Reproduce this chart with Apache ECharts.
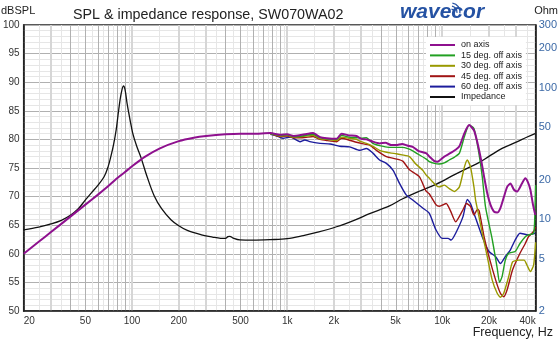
<!DOCTYPE html>
<html><head><meta charset="utf-8">
<script src="https://cdn.jsdelivr.net/npm/echarts@6/dist/echarts.min.js"></script>
<style>html,body{margin:0;padding:0;background:#fff}#c{width:560px;height:345px}</style>
</head><body><div id="c"></div>
<script>
// ---- data (frequency Hz, level) ----
const onAxis = [[20,60.0],[25,62.1],[30,63.8],[40,66.5],[50,68.6],[60,70.3],[70,71.8],[80,73.2],[90,74.3],[100,75.3],[120,76.9],[150,78.4],[200,79.7],[250,80.3],[300,80.6],[400,80.9],[500,81.0],[600,81.0],[780,81.1],
 [900,80.8],[1000,80.9],[1100,80.6],[1250,80.8],[1470,81.1],[1630,80.4],[1800,80.2],[2080,80.1],[2240,81.0],[2500,80.7],[2800,80.6],[3000,80.1],[3240,80.0],[3570,79.6],[3940,79.3],[4300,79.4],[4700,79.0],[5050,79.0],[5500,79.2],[6000,78.9],[6450,78.7],[7000,78.0],[7850,77.6],[8250,77.0],[8900,76.2],[9300,76.1],[10300,77.0],[11100,77.5],[12200,78.2],[12900,78.8],[13900,81.1],[14900,82.5],[16000,81.6],[16900,79.3],[17800,76.4],[18600,73.5],[19500,70.6],[20500,68.5],[21500,67.4],[22600,67.2],[23700,68.0],[25000,70.0],[26200,71.7],[27500,72.3],[29000,71.2],[30400,70.9],[32500,72.2],[34300,73.2],[35700,72.5],[37000,71.2],[38500,68.5],[39800,66.8],[40000,66.7]];
const off15 = [[780,81.0],[900,80.7],[1000,80.8],[1100,80.5],[1250,80.6],[1470,80.9],[1630,80.3],[1800,80.1],[2080,80.0],[2240,80.7],[2500,80.4],[2800,80.3],[3000,80.2],[3240,80.3],[3570,79.3],[3940,78.9],[4300,78.7],[4700,78.6],[5050,78.6],[5500,78.6],[6000,78.4],[6450,78.0],[7000,77.4],[7850,76.6],[8250,76.1],[8900,75.8],[9500,75.7],[10300,75.9],[11100,76.4],[12000,76.9],[12900,77.6],[13900,80.5],[14900,82.5],[16000,81.9],[17100,78.1],[18100,73.5],[19000,68.2],[21000,62.5],[22600,57.5],[23400,55.0],[24300,56.0],[25500,58.9],[26800,60.1],[29500,60.4],[31700,61.8],[34300,63.0],[36000,63.3],[38800,63.6],[39500,66.5],[40000,72.0]];
const off30 = [[780,81.0],[900,80.6],[1000,80.7],[1100,80.4],[1250,80.5],[1470,80.7],[1630,80.1],[1800,80.0],[2080,79.8],[2240,80.4],[2500,80.2],[2800,80.0],[3000,79.6],[3240,79.3],[3570,78.8],[3940,78.1],[4300,77.8],[4700,77.6],[5050,77.5],[5500,77.3],[6140,77.0],[6700,75.8],[7480,74.6],[7850,73.8],[8250,73.2],[9100,72.0],[9550,71.7],[10300,72.0],[11100,71.4],[12000,70.9],[12900,71.7],[13900,75.2],[14500,76.4],[15200,75.2],[16000,71.7],[16400,69.4],[17100,67.0],[18100,63.6],[19500,59.5],[21000,55.4],[22600,53.1],[23700,52.4],[24900,53.1],[26800,56.0],[28400,58.6],[31200,58.9],[33700,58.9],[35200,58.0],[37000,56.9],[38800,58.0],[40000,62.0]];
const off45 = [[780,81.0],[900,80.5],[1000,80.6],[1100,80.3],[1250,80.3],[1470,80.5],[1630,80.0],[1800,79.8],[2080,79.6],[2240,80.2],[2500,79.9],[2800,79.5],[3000,79.3],[3400,79.0],[3800,78.0],[4360,77.0],[5000,76.6],[5560,76.2],[6140,74.7],[7110,73.5],[7850,71.0],[8240,70.5],[9100,68.6],[9550,68.3],[10000,68.5],[10600,68.8],[11300,67.5],[12200,65.6],[13600,67.7],[14300,68.8],[15200,68.3],[16000,66.8],[16900,67.8],[17300,67.5],[18600,63.0],[20000,59.5],[22100,55.4],[23700,53.1],[24900,52.5],[26200,53.7],[28400,57.2],[31700,60.1],[34300,61.8],[36000,63.0],[38800,63.9],[40000,64.7]];
const off60 = [[780,80.9],[860,80.6],[940,80.2],[1050,80.4],[1210,79.6],[1300,79.9],[1400,79.6],[1630,79.3],[1890,79.2],[2180,78.8],[2530,78.7],[2940,78.1],[3240,78.4],[3570,77.6],[3940,76.4],[4360,75.8],[4820,74.6],[5300,72.3],[5850,70.3],[6450,69.4],[7480,68.0],[8240,67.1],[9100,64.2],[10000,62.7],[10900,62.7],[11400,62.4],[12200,63.6],[13600,66.5],[14500,69.5],[15200,68.8],[16000,67.1],[18100,63.0],[20000,60.4],[22100,59.5],[23700,58.3],[25500,59.5],[27500,60.7],[29500,62.4],[31700,63.6],[36000,63.3],[39800,63.6],[40000,63.5]];
const impedance = [[20,8.3],[25,8.7],[30,9.2],[35,9.8],[40,10.7],[45,12.0],[50,14.0],[55,16.0],[60,18.0],[66,21],[70,25],[73,30],[76,37],[79,48],[82,68],[85,90],[88,103],[90,97],[93,75],[97,57],[101,45],[107,36],[114,29.5],[125,21],[139,15],[155,12],[178,9.9],[200,8.9],[227,8.2],[280,7.6],[330,7.3],[372,7.15],[400,7.15],[415,7.35],[427,7.4],[445,7.2],[496,6.95],[600,6.92],[778,6.98],[1000,7.1],[1270,7.5],[1600,8.0],[2080,8.75],[2700,9.8],[3400,11.0],[4570,12.6],[5560,14.3],[7100,16.3],[9100,18.4],[12000,21.8],[14900,24.8],[17100,26.8],[20000,30],[24300,34.5],[30000,38.5],[35000,42],[40000,45]];

const seriesNames = ['on axis','15 deg. off axis','30 deg. off axis','45 deg. off axis','60 deg. off axis','Impedance'];
const freqTicks = [20,50,100,200,500,1000,2000,5000,10000,20000,40000];
const ohmTicks = [2,5,10,20,50,100,200,300];
// vertical grid lines: kind 0 = light half-step, 1 = gray, 2 = wide light
const gridHalf = [25,35,45,55,65,75,85,95,150,250,350,450,550,650,750,850,950,1500,2500,3500,4500,5500,6500,7500,8500,9500,15000,25000,35000];
const gridMain = [40,50,60,70,80,90,400,500,600,700,800,900,4000,5000,6000,7000,8000,9000];
const gridWide = [30,100,200,300,1000,2000,3000,10000,20000,30000];

const FONT = '"Liberation Sans", Arial, sans-serif';
const gridData = [].concat(gridHalf.map(f=>[f,50,0]), gridWide.map(f=>[f,50,2]), gridMain.map(f=>[f,50,1]));
const gridStyles = [
  {stroke:'#e6e6e6', lineWidth:1},
  {stroke:'#b0b0b0', lineWidth:1},
  {stroke:'#d6d6d6', lineWidth:2}
];

const chart = echarts.init(document.getElementById('c'), null, {renderer:'canvas'});
const fmtF = v => v >= 1000 ? (v/1000)+'k' : String(v);
chart.setOption({
  animation:false,
  backgroundColor:'#fff',
  textStyle:{fontFamily:FONT},
  grid:{left:22, right:21, top:25, bottom:34, show:true, borderColor:'#222', borderWidth:1.5, backgroundColor:'transparent'},
  title:{text:'SPL & impedance response, SW070WA02', left:68, top:3, textStyle:{fontFamily:FONT, fontSize:14.3, fontWeight:'normal', color:'#222'}},
  legend:{
    data:seriesNames, orient:'vertical', left:426, top:37, padding:[3,4,3,4],
    backgroundColor:'#fff', icon:'rect', itemWidth:25, itemHeight:2, itemGap:0.4,
    textStyle:{fontFamily:FONT, fontSize:9, color:'#222', lineHeight:10, padding:[0,0,0,1]}
  },
  xAxis:{
    type:'log', logBase:10, min:20, max:40000,
    axisLine:{show:true, lineStyle:{color:'#222', width:1.5}},
    axisTick:{show:false},
    splitLine:{show:false}, minorSplitLine:{show:false},
    axisLabel:{customValues:freqTicks, formatter:fmtF, fontSize:10, color:'#333', fontFamily:FONT, margin:5, alignMinLabel:'left', alignMaxLabel:'right'}
  },
  yAxis:[
    {type:'value', min:50, max:100, interval:5, position:'left',
     axisLine:{show:true, lineStyle:{color:'#222', width:1.5}}, axisTick:{show:false},
     axisLabel:{fontSize:10, color:'#333', fontFamily:FONT, margin:4},
     splitLine:{show:true, lineStyle:{color:'#b0b0b0', width:1}},
     minorTick:{show:false, splitNumber:5},
     minorSplitLine:{show:true, lineStyle:{color:'#e6e6e6', width:1}}},
    {type:'log', logBase:10, min:2, max:300, position:'right',
     axisLine:{show:true, lineStyle:{color:'#222', width:1.5}}, axisTick:{show:false},
     splitLine:{show:false}, minorSplitLine:{show:false},
     axisLabel:{customValues:ohmTicks, fontSize:11, color:'#3b69a6', fontFamily:FONT, margin:3}}
  ],
  graphic:[
    {type:'text', left:1, top:5, style:{text:'dBSPL', font:'11px '+FONT, fill:'#222'}},
    {type:'text', right:2, top:5, style:{text:'Ohm', font:'11px '+FONT, fill:'#222'}},
    {type:'text', right:7, top:326, style:{text:'Frequency, Hz', font:'12.5px '+FONT, fill:'#222'}},
    {type:'text', left:400, top:2, style:{text:'wavecor', font:'italic bold 21px '+FONT, fill:'#2552a3'}},
    {type:'arc', shape:{cx:451, cy:12, r:3, startAngle:-Math.PI*0.45, endAngle:Math.PI*0.05}, style:{stroke:'#2552a3', lineWidth:1.3, fill:null}},
    {type:'arc', shape:{cx:451, cy:12, r:6, startAngle:-Math.PI*0.45, endAngle:Math.PI*0.05}, style:{stroke:'#2552a3', lineWidth:1.3, fill:null}},
    {type:'arc', shape:{cx:451, cy:12, r:9, startAngle:-Math.PI*0.45, endAngle:Math.PI*0.05}, style:{stroke:'#2552a3', lineWidth:1.3, fill:null}}
  ],
  series:[
    {type:'custom', name:'grid', silent:true, z:0, xAxisIndex:0, yAxisIndex:0, data:gridData, encode:{x:0,y:1},
     renderItem:(params, api) => {
       const f = api.value(0), k = api.value(2);
       const a = api.coord([f, 50]), b = api.coord([f, 100]);
       let x = Math.round(a[0]) + (k===2 ? 0 : 0.5);
       return {type:'line', silent:true, shape:{x1:x, y1:a[1], x2:x, y2:b[1]}, style:gridStyles[k]};
     }},
    {name:seriesNames[5], type:'line', yAxisIndex:1, data:impedance, showSymbol:false, smooth:0.35, lineStyle:{color:'#111', width:1.3}, itemStyle:{color:'#111'}, z:3},
    {name:seriesNames[4], type:'line', yAxisIndex:0, data:off60, showSymbol:false, smooth:0.2, lineStyle:{color:'#1c1c9c', width:1.4}, itemStyle:{color:'#1c1c9c'}, z:4},
    {name:seriesNames[3], type:'line', yAxisIndex:0, data:off45, showSymbol:false, smooth:0.2, lineStyle:{color:'#a01414', width:1.4}, itemStyle:{color:'#a01414'}, z:4},
    {name:seriesNames[2], type:'line', yAxisIndex:0, data:off30, showSymbol:false, smooth:0.2, lineStyle:{color:'#999900', width:1.4}, itemStyle:{color:'#999900'}, z:4},
    {name:seriesNames[1], type:'line', yAxisIndex:0, data:off15, showSymbol:false, smooth:0.2, lineStyle:{color:'#22a022', width:1.4}, itemStyle:{color:'#22a022'}, z:4},
    {name:seriesNames[0], type:'line', yAxisIndex:0, data:onAxis, showSymbol:false, smooth:0.2, lineStyle:{color:'#8e108e', width:2}, itemStyle:{color:'#8e108e'}, z:5}
  ]
});
</script></body></html>
